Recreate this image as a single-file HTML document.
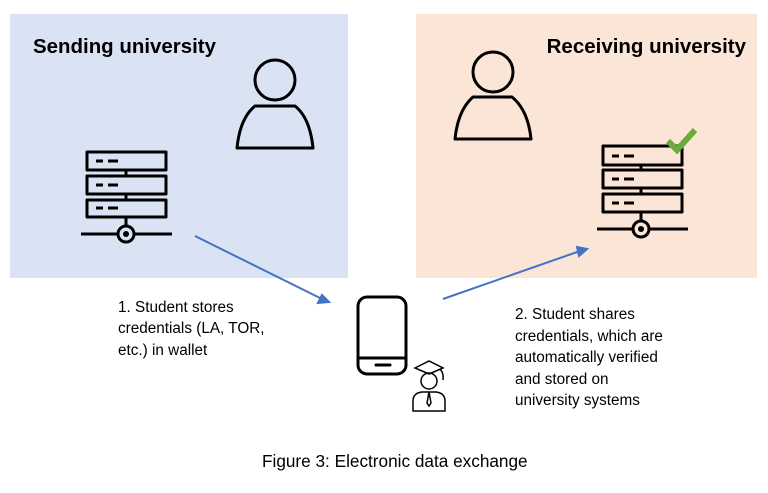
<!DOCTYPE html>
<html><head><style>
body{margin:0;background:#fff;width:768px;height:488px;overflow:hidden;font-family:"Liberation Sans",sans-serif}
</style></head><body>
<svg width="768" height="488" xmlns="http://www.w3.org/2000/svg">
<rect x="10" y="14" width="338" height="264" fill="#dae3f3"/>
<rect x="416" y="14" width="341" height="264" fill="#fbe5d6"/>
<text x="33" y="53" font-size="20.5" font-weight="bold" fill="#000" textLength="183" lengthAdjust="spacingAndGlyphs">Sending university</text>
<text x="746" y="53" font-size="20.5" font-weight="bold" fill="#000" text-anchor="end">Receiving university</text>
<g fill="none" stroke="#000" stroke-width="3" stroke-linejoin="round">
<circle cx="275" cy="80" r="20"/>
<path d="M237 148 Q240 118 255 106 L295 106 Q310 118 313 148 Z"/>
<circle cx="493" cy="72" r="20"/>
<path d="M455 139 Q458 110 473 97 L512 97 Q528 110 531 139 Z"/>
<rect x="87" y="152" width="79" height="18"/>
<rect x="87" y="176" width="79" height="18"/>
<rect x="87" y="200" width="79" height="17"/>
<path d="M126 170V176M126 194V200M126 217V226M81 234H118M134 234H172"/>
<circle cx="126" cy="234" r="8"/>
<rect x="603" y="146" width="79" height="19"/>
<rect x="603" y="170" width="79" height="18"/>
<rect x="603" y="194" width="79" height="18"/>
<path d="M641 165V170M641 188V194M641 212V221M597 229H633M649 229H688"/>
<circle cx="641" cy="229" r="8"/>
<rect x="358" y="297" width="48" height="77" rx="9"/>
<path d="M358 358H406"/>
</g>
<g stroke="#000" stroke-width="3">
<path d="M96 161h7M108 161h10M96 185h7M108 185h10M96 208h7M108 208h10"/>
<path d="M612 156h7M624 156h10M612 179h7M624 179h10M612 203h7M624 203h10"/>
<path d="M376 365h14" stroke-linecap="round"/>
</g>
<circle cx="126" cy="234" r="3" fill="#000"/>
<circle cx="641" cy="229" r="3" fill="#000"/>
<path d="M668 141 L677 150 L695 130" fill="none" stroke="#6aab3a" stroke-width="6"/>
<g fill="none" stroke="#000" stroke-width="1.5">
<path d="M415 368 L429 361 L443 368 L429 374 Z"/>
<path d="M440 369 Q444 373 443 380"/>
<circle cx="429" cy="381" r="8"/>
<path d="M413 411 L413 401 Q413 393 422 392 L436 392 Q445 393 445 401 L445 411 Z"/>
<path d="M429 392 L427 403 L429 406 L431 403 Z"/>
</g>
<g stroke="#4472c4" stroke-width="2" fill="#4472c4">
<line x1="195" y1="236" x2="322" y2="299"/>
<path d="M329 302 L318 303 L322 295 Z"/>
<line x1="443" y1="299" x2="580" y2="251"/>
<path d="M587 249 L579 256 L577 247 Z"/>
</g>
<g font-size="15.3" fill="#000">
<text x="118" y="312">1. Student stores</text>
<text x="118" y="333">credentials (LA, TOR,</text>
<text x="118" y="355">etc.) in wallet</text>
<text x="515" y="319">2. Student shares</text>
<text x="515" y="341">credentials, which are</text>
<text x="515" y="362">automatically verified</text>
<text x="515" y="384">and stored on</text>
<text x="515" y="405">university systems</text>
</g>
<text x="262" y="467" font-size="17.2" fill="#000">Figure 3: Electronic data exchange</text>
</svg>
</body></html>
